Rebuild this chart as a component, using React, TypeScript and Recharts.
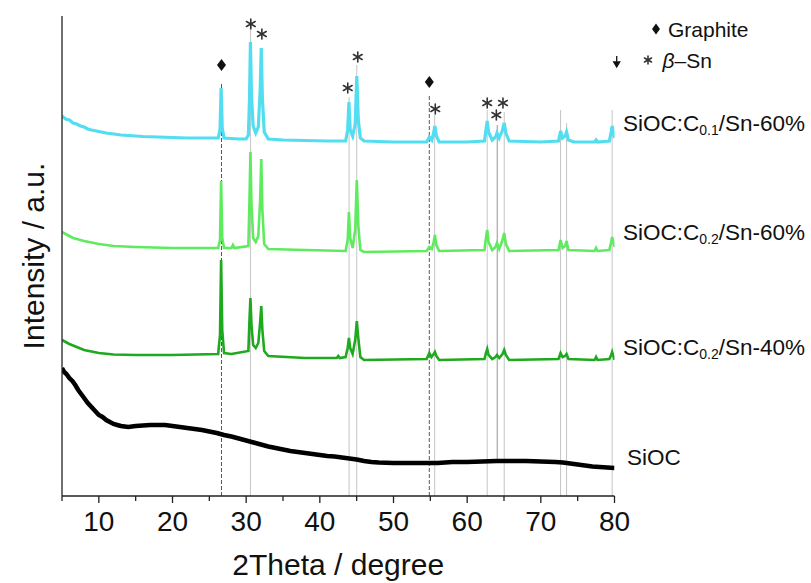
import React from 'react';
import {
  ComposedChart,
  Line,
  XAxis,
  YAxis,
  ReferenceLine,
  ReferenceDot,
  Label,
} from 'recharts';

const FONT = '"Liberation Sans", Arial, Helvetica, sans-serif';

type Pt = [number, number];

// 2Theta (degree), intensity (a.u., stacked with offsets as drawn)
const sn60c01: Pt[] = [
  [5, 380], [5.5, 377], [6, 376], [6.5, 373], [7, 372], [7.5, 370], [8, 369], [8.5, 367], [9, 366],
  [10, 364.5], [11, 363], [12, 362], [13, 361], [14, 360.5], [15, 360], [16, 359.5], [18, 359],
  [20, 358.5], [22, 358], [24, 358], [26.2, 358], [26.45, 366], [26.6, 408], [26.75, 368], [27, 358],
  [28, 357.5], [29, 357], [30, 357], [30.3, 361], [30.45, 396], [30.58, 454], [30.72, 400],
  [30.95, 370], [31.3, 363], [31.65, 369], [31.9, 406], [32.05, 448], [32.2, 398], [32.45, 364],
  [33, 357], [35, 356], [38, 355.5], [41, 355], [43.5, 355], [43.78, 366], [43.95, 394],
  [44.12, 366], [44.45, 360], [44.8, 372], [45.02, 420], [45.22, 376], [45.5, 358], [46, 355],
  [50, 354], [54.5, 354], [54.86, 359], [55.2, 356], [55.45, 363], [55.62, 370], [55.82, 360],
  [56.2, 354], [60, 354], [62.35, 355], [62.55, 366], [62.72, 375], [62.9, 364], [63.4, 356],
  [63.85, 359], [64.05, 363], [64.35, 358], [64.8, 366], [65.03, 373], [65.25, 363], [65.7, 355],
  [70, 354], [72.4, 355], [72.68, 365], [72.95, 358], [73.3, 360], [73.49, 364], [73.75, 356],
  [74.5, 354], [77.3, 354], [77.5, 356], [77.7, 354], [79.3, 355], [79.55, 364], [79.68, 370],
  [79.85, 364], [80, 358],
];

const sn60c02: Pt[] = [
  [5, 264], [5.5, 262], [6, 260], [6.5, 258], [7, 257], [8, 255], [9, 253.5], [10, 252], [12, 250],
  [15, 249], [20, 248], [26.2, 248], [26.45, 256], [26.6, 315], [26.75, 258], [27, 248], [28, 248],
  [28.2, 251], [28.4, 248], [30.3, 250], [30.45, 296], [30.58, 344], [30.72, 291], [30.95, 258],
  [31.3, 254], [31.65, 260], [31.9, 296], [32.05, 337], [32.2, 286], [32.45, 252], [33, 247],
  [38, 246], [43.5, 245], [43.78, 256], [43.95, 284], [44.12, 258], [44.45, 248], [44.8, 266],
  [45.02, 316], [45.22, 271], [45.5, 246], [46, 244], [54.5, 245], [54.86, 249], [55.2, 247],
  [55.45, 254], [55.62, 261], [55.82, 251], [56.2, 245], [62.35, 246], [62.55, 258], [62.72, 266],
  [62.9, 254], [63.4, 246], [63.85, 249], [64.05, 253], [64.35, 247], [64.8, 256], [65.03, 263],
  [65.25, 252], [65.7, 245], [72.4, 246], [72.68, 256], [72.95, 248], [73.3, 250], [73.49, 255],
  [73.75, 246], [77.3, 245], [77.5, 248], [77.7, 245], [79.3, 246], [79.55, 254], [79.68, 259],
  [79.85, 254], [80, 249],
];

const sn40c02: Pt[] = [
  [5, 156], [5.5, 154], [6, 152], [7, 149], [8, 146], [9, 144.5], [10, 143], [12, 141.5], [15, 141],
  [20, 141], [26.2, 142], [26.45, 161], [26.6, 236], [26.75, 166], [27, 143], [28, 142], [30.3, 145],
  [30.45, 176], [30.58, 198], [30.72, 171], [30.95, 151], [31.3, 148], [31.65, 153], [31.9, 174],
  [32.05, 190], [32.2, 166], [32.45, 145], [33, 140], [38, 138], [42.3, 138], [42.5, 140],
  [42.7, 138], [43.5, 139], [43.78, 148], [43.95, 158], [44.12, 148], [44.45, 142], [44.8, 156],
  [45.02, 175], [45.22, 158], [45.5, 139], [46, 136], [54.5, 137], [54.86, 143], [55.15, 139],
  [55.45, 142], [55.62, 144], [55.82, 140], [56.2, 136], [62.35, 137], [62.55, 143], [62.72, 147],
  [62.9, 141], [63.4, 137], [63.85, 139], [64.05, 141], [64.35, 138], [64.8, 142], [65.03, 146],
  [65.25, 141], [65.7, 136], [72.4, 137], [72.68, 143], [72.95, 139], [73.3, 140], [73.49, 142],
  [73.75, 137], [77.3, 136], [77.5, 139], [77.7, 136], [79.3, 137], [79.55, 141], [79.68, 144],
  [79.85, 140], [80, 136],
];

const sioc: Pt[] = [
  [5, 128], [5.3, 124], [5.6, 122], [6, 118], [6.4, 115], [6.8, 111], [7.2, 106], [7.6, 102],
  [8, 98], [8.5, 93], [9, 89], [9.5, 85], [10, 81], [10.5, 79], [11, 76], [11.5, 74], [12, 72],
  [12.5, 71], [13, 70], [13.5, 69.5], [14, 69], [15, 70], [16, 70.5], [17, 71], [18, 71], [19, 71],
  [20, 70], [21, 69], [21.5, 68.5], [22, 68], [23, 67], [24, 66], [25, 64.5], [26, 63], [27, 61],
  [28, 59.5], [29, 57.5], [30, 55.5], [31, 53.5], [32, 51.5], [33, 49.5], [34, 48], [35, 46.5],
  [36, 45], [37, 44], [38, 43], [39, 42], [40, 41], [41, 40], [42, 39.5], [43, 38.5], [44, 37.5],
  [45, 36.5], [46, 35], [47, 34], [48, 33.5], [50, 33], [52, 33], [54, 33], [56, 33], [58, 34],
  [60, 34], [62, 34.5], [64, 35], [66, 35], [68, 35], [70, 34.5], [72, 34], [73, 33.5], [74, 32.5],
  [75, 31.5], [76, 30.5], [77, 29.5], [78, 29], [79, 28.5], [80, 28],
];

// reference lines: [position, top]
const graphiteLines: Pt[] = [[26.65, 414], [54.86, 402]];
const snLines: Pt[] = [
  [30.58, 466], [43.97, 399], [45.01, 431], [55.59, 381], [62.72, 386], [65.03, 384],
  [72.68, 386], [73.49, 373], [79.68, 386],
];
const snDarkLine: Pt = [64.08, 371];

// markers
const graphiteMarks: Pt[] = [[26.65, 431], [54.86, 414]];
const snMarks: Pt[] = [
  [30.63, 472], [32.13, 462], [43.79, 408], [45.15, 439], [55.67, 387], [62.72, 393],
  [63.96, 381], [64.86, 393],
];

const xTicks = [5, 10, 15, 20, 25, 30, 35, 40, 45, 50, 55, 60, 65, 70, 75, 80];

const rows = (pts: Pt[]) => pts.map(([t, v]) => ({ t, v }));

const COLORS = {
  c01: '#52DDF0',
  c02: '#5EEB5E',
  c40: '#1FA91F',
  sioc: '#000000',
};

const Tick = (props: any) => {
  const { x, y, payload } = props;
  const major = payload.value % 10 === 0;
  return (
    <g>
      <line x1={x} x2={x} y1={y} y2={y + (major ? 7 : 5)} stroke="#222" strokeWidth={1.3} />
      {major && (
        <text x={x} y={y + 35} textAnchor="middle" fontSize={28} fontFamily={FONT} fill="#111">
          {payload.value}
        </text>
      )}
    </g>
  );
};

const Diamond = (cx: number, cy: number, w = 4.5, h = 6) => (
  <path d={`M${cx},${cy - h} L${cx + w},${cy} L${cx},${cy + h} L${cx - w},${cy} Z`} fill="#111" />
);

const Star = (cx: number, cy: number, r = 5) => {
  const dx = r * 0.866;
  const dy = r * 0.5;
  return (
    <g stroke="#333" strokeWidth={1.6} strokeLinecap="round">
      <line x1={cx} y1={cy - r} x2={cx} y2={cy + r} />
      <line x1={cx - dx} y1={cy - dy} x2={cx + dx} y2={cy + dy} />
      <line x1={cx - dx} y1={cy + dy} x2={cx + dx} y2={cy - dy} />
    </g>
  );
};

const seriesLabel = (main: string, sub: string | null, rest: string, dx: number, dy: number) =>
  (props: any) => {
    const { cx, cy } = props;
    return (
      <text x={cx + dx} y={cy + dy} fontSize={22.5} fontFamily={FONT} fill="#111" dominantBaseline="central">
        <tspan>{main}</tspan>
        {sub && (
          <tspan dy={7} fontSize={14}>
            {sub}
          </tspan>
        )}
        {sub && <tspan dy={-7}>{rest}</tspan>}
      </text>
    );
  };

const legendShape = (props: any) => {
  const { cx, cy } = props;
  return (
    <g>
      {Diamond(cx + 41.5, cy + 13, 4, 5.5)}
      <text x={cx + 53.5} y={cy + 21} fontSize={21} fontFamily={FONT} fill="#111">
        Graphite
      </text>
      {Star(cx + 33.5, cy + 44, 4)}
      <text x={cx + 48} y={cy + 52} fontSize={21} fontFamily={FONT} fill="#111">
        <tspan fontStyle="italic">β</tspan>
        <tspan>–Sn</tspan>
      </text>
      <g stroke="#111" strokeWidth={1.3} fill="#111">
        <line x1={cx + 2.2} y1={cy + 40} x2={cx + 2.2} y2={cy + 48} />
        <path d={`M${cx - 0.8},${cy + 46} L${cx + 5.2},${cy + 46} L${cx + 2.2},${cy + 51} Z`} />
      </g>
    </g>
  );
};

const last = (pts: Pt[]) => pts[pts.length - 1][1];

export default function App() {
  return (
    <div style={{ position: 'absolute', left: 0, top: 0, width: 811, height: 583, background: '#fff' }}>
      <ComposedChart width={811} height={583} margin={{ top: 16, right: 196.5, bottom: 0, left: 0 }}>
        <XAxis
          type="number"
          dataKey="t"
          domain={[5, 80]}
          ticks={xTicks}
          interval={0}
          allowDataOverflow
          tickSize={0}
          tickMargin={0}
          tickLine={false}
          axisLine={{ stroke: '#222', strokeWidth: 1.3 }}
          tick={<Tick />}
          height={87}
        >
          <Label
            content={(p: any) => {
              const vb = p.viewBox || { x: 62, y: 496, width: 552.5 };
              return (
                <text x={vb.x + vb.width / 2} y={575} textAnchor="middle" fontSize={30} fontFamily={FONT} fill="#111">
                  2Theta / degree
                </text>
              );
            }}
          />
        </XAxis>
        <YAxis
          type="number"
          domain={[0, 480]}
          allowDataOverflow
          width={62}
          tick={false}
          tickLine={false}
          axisLine={{ stroke: '#222', strokeWidth: 1.3 }}
        >
          <Label
            content={(p: any) => {
              const vb = p.viewBox || { y: 16, height: 480 };
              const cy = vb.y + vb.height / 2;
              return (
                <text
                  x={33}
                  y={cy}
                  transform={`rotate(-90, 33, ${cy})`}
                  textAnchor="middle"
                  dominantBaseline="central"
                  fontSize={30}
                  fontFamily={FONT}
                  fill="#111"
                >
                  Intensity / a.u.
                </text>
              );
            }}
          />
        </YAxis>

        {snLines.map(([p, top]) => (
          <ReferenceLine
            key={`sn${p}`}
            segment={[{ x: p, y: 0 }, { x: p, y: top }]}
            stroke="#bdbdbd"
            strokeWidth={0.9}
          />
        ))}
        <ReferenceLine
          segment={[{ x: snDarkLine[0], y: 35 }, { x: snDarkLine[0], y: snDarkLine[1] }]}
          stroke="#8a8a8a"
          strokeWidth={0.9}
        />
        {graphiteLines.map(([p, top]) => (
          <ReferenceLine
            key={`g${p}`}
            segment={[{ x: p, y: 0 }, { x: p, y: top }]}
            stroke="#444"
            strokeWidth={0.9}
            strokeDasharray="4 2"
          />
        ))}

        <Line data={rows(sioc)} dataKey="v" type="linear" stroke={COLORS.sioc} strokeWidth={4.5} dot={false} isAnimationActive={false} />
        <Line data={rows(sn40c02)} dataKey="v" type="linear" stroke={COLORS.c40} strokeWidth={2.6} dot={false} isAnimationActive={false} />
        <Line data={rows(sn60c02)} dataKey="v" type="linear" stroke={COLORS.c02} strokeWidth={2.6} dot={false} isAnimationActive={false} />
        <Line data={rows(sn60c01)} dataKey="v" type="linear" stroke={COLORS.c01} strokeWidth={3.2} dot={false} isAnimationActive={false} />

        {graphiteMarks.map(([p, v]) => (
          <ReferenceDot key={`gm${p}`} x={p} y={v} r={6} ifOverflow="visible" shape={(pr: any) => Diamond(pr.cx, pr.cy)} />
        ))}
        {snMarks.map(([p, v]) => (
          <ReferenceDot key={`sm${p}`} x={p} y={v} r={5} ifOverflow="visible" shape={(pr: any) => Star(pr.cx, pr.cy)} />
        ))}

        <ReferenceDot x={80} y={480} r={1} ifOverflow="visible" shape={legendShape} />

        <ReferenceDot x={80} y={last(sn60c01)} r={1} ifOverflow="visible" shape={seriesLabel('SiOC:C', '0.1', '/Sn-60%', 8.5, -15)} />
        <ReferenceDot x={80} y={last(sn60c02)} r={1} ifOverflow="visible" shape={seriesLabel('SiOC:C', '0.2', '/Sn-60%', 8.5, -15)} />
        <ReferenceDot x={80} y={last(sn40c02)} r={1} ifOverflow="visible" shape={seriesLabel('SiOC:C', '0.2', '/Sn-40%', 8.5, -13)} />
        <ReferenceDot x={80} y={last(sioc)} r={1} ifOverflow="visible" shape={seriesLabel('SiOC', null, '', 12.5, -11)} />
      </ComposedChart>
    </div>
  );
}
